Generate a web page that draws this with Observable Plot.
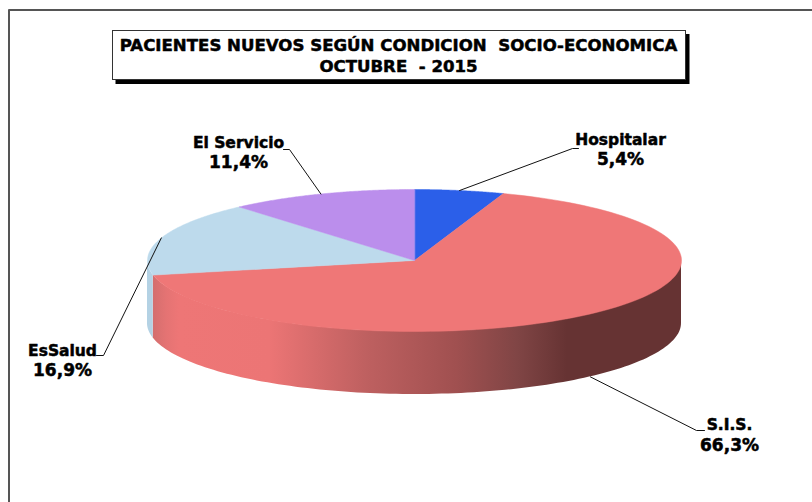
<!DOCTYPE html>
<html>
<head>
<meta charset="utf-8">
<script src="https://cdn.jsdelivr.net/npm/d3@7"></script>
<script src="https://cdn.jsdelivr.net/npm/@observablehq/plot@0.6"></script>
<style>
html,body{margin:0;padding:0;background:#fff}
svg{display:block}
</style>
</head>
<body>
<div id="chart"></div>
<script>
// Data, clockwise from twelve o'clock
const categories = ["Hospitalar", "S.I.S.", "EsSalud", "El Servicio"];
const shares = [5.4, 66.3, 16.9, 11.4];
const titleLines = ["PACIENTES NUEVOS SEGÚN CONDICION  SOCIO-ECONOMICA", "OCTUBRE  - 2015"];

// Styles
const topColors = ["#2b5fe9", "#ef7777", "#bddaec", "#bb8eec"];
const sideBlue = "#b4d2e4";
const font = "DejaVu Sans";

// Layout (pixels): ellipse, depth, labels, leader elbows, frame
const W = 812, H = 502, cx = 414, cy = 260, rx = 267, ry = 71, depth = 63;
const X = px => (px - cx) / rx, Y = py => (py - cy) / ry;
const labelLayout = [
  {x: 620, y: 149.5, elbow: [[572, 148], [578, 148]]},
  {x: 729, y: 435, elbow: [[696, 430], [704, 430]]},
  {x: 62, y: 360.5, elbow: [[103, 355], [96, 355]]},
  {x: 238, y: 152.5, elbow: [[289, 149], [283, 149]]}
];

// Slices from the values
const total = d3.sum(shares);
let acc = 0;
const slices = categories.map((name, i) => {
  const a0 = acc / total * 2 * Math.PI; acc += shares[i];
  const a1 = acc / total * 2 * Math.PI;
  return {name, share: shares[i], a0, a1, mid: (a0 + a1) / 2, color: topColors[i], ...labelLayout[i]};
});
const rim = a => ({x: Math.sin(a), y: -Math.cos(a)});
const arc = (a0, a1) => d3.range(0, 121).map(k => rim(a0 + (a1 - a0) * k / 120));
const dy = depth / ry;
const side = (a0, a1) => arc(a0, a1).map(p => ({x: p.x, y1: p.y, y2: p.y + dy}));
const half = Math.PI / 2;

const gradient = () => {
  const svg = d3.create("svg:defs");
  const g = svg.append("linearGradient").attr("id", "sideShade").attr("x1", 0).attr("x2", 1).attr("y1", 0).attr("y2", 0);
  [[0, "#d46e6e"], [0.025, "#e47373"], [0.05, "#ee7676"], [0.22, "#ec7575"], [0.405, "#be6060"],
   [0.575, "#a05050"], [0.69, "#804545"], [0.784, "#663333"], [1, "#663333"]]
    .forEach(([o, c]) => g.append("stop").attr("offset", o).attr("stop-color", c));
  return svg.node();
};

const labelStyle = {fontFamily: font, fontWeight: "bold", fill: "#000", stroke: "#000", strokeWidth: 0.5, textAnchor: "middle"};
const sisSlice = slices[1];
const marks = [
  gradient,
  // frame
  Plot.line([[8.5, H], [8.5, 9.5], [W, 9.5]], {x: d => X(d[0]), y: d => Y(d[1]), stroke: "#555", strokeWidth: 2}),
  // title box
  Plot.rect([0], {x1: () => X(115.5), x2: () => X(689.5), y1: () => Y(34), y2: () => Y(84), fill: "#000"}),
  Plot.rect([0], {x1: () => X(112.5), x2: () => X(685.5), y1: () => Y(30.5), y2: () => Y(79.5), fill: "#fff", stroke: "#333", strokeWidth: 1}),
  ...titleLines.map((t, i) => Plot.text([t], {
    x: () => X(398), y: () => Y(45 + i * 21), text: d => d, fontSize: 16.6, ...labelStyle
  })),
  // sides
  Plot.area(side(half, sisSlice.a1), {x1: "x", y1: "y1", y2: "y2", fill: "url(#sideShade)"}),
  Plot.area(side(sisSlice.a1, 3 * half), {x1: "x", y1: "y1", y2: "y2", fill: sideBlue}),
  // top faces
  ...slices.map(s => Plot.line([{x: 0, y: 0}, ...arc(s.a0, s.a1)], {x: "x", y: "y", fill: s.color, stroke: s.color, strokeWidth: 0.5, curve: "linear-closed"})),
  // leaders
  ...slices.map((s, i) => {
    const p = rim(s.mid);
    const start = i === 1 ? {x: p.x, y: p.y + dy} : p;
    return Plot.line([start, ...s.elbow.map(e => ({x: X(e[0]), y: Y(e[1])}))], {x: "x", y: "y", stroke: "#111", strokeWidth: 1});
  }),
  // labels
  Plot.text(slices, {x: d => X(d.x), y: d => Y(d.y - 10), text: "name", fontSize: 15.5, ...labelStyle}),
  Plot.text(slices, {x: d => X(d.x), y: d => Y(d.y + 10), text: d => `${d.share.toFixed(1).replace(".", ",")}%`, fontSize: 17, ...labelStyle})
];

const chart = Plot.plot({
  width: W, height: H, margin: 0,
  x: {domain: [-1, 1], range: [cx - rx, cx + rx], axis: null},
  y: {domain: [-1, 1], range: [cy - ry, cy + ry], axis: null},
  style: {background: "#fff"},
  marks
});
document.getElementById("chart").appendChild(chart);
</script>
</body>
</html>
